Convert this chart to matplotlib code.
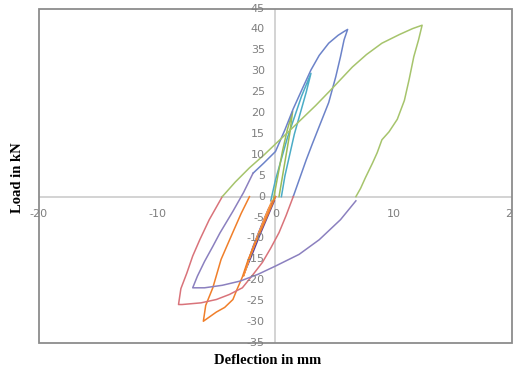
import matplotlib
matplotlib.use('Agg')
import matplotlib.pyplot as plt
from matplotlib.patches import Rectangle

# hysteresis cycles, deflection (mm) / load (kN)
aqua_x = [-0.4, 0.0, 0.5, 1.0, 1.6, 2.2, 3.0, 2.6, 2.1, 1.6, 1.2, 0.8, 0.5]
aqua_y = [-1.0, 4.0, 9.0, 14.0, 19.0, 24.0, 29.5, 25.0, 20.0, 15.0, 10.0, 5.0, 0.0]

purple_small_x = [0.0, -0.6, -1.2, -1.9, -2.6, -2.0, -1.3, -0.7, -0.1]
purple_small_y = [0.0, -3.0, -7.0, -12.0, -18.0, -14.0, -9.0, -5.0, -1.0]

green_small_x = [-0.2, 0.2, 0.6, 1.0, 1.45, 1.2, 0.9, 0.6, 0.3]
green_small_y = [-1.0, 5.0, 11.0, 16.0, 20.4, 15.0, 10.0, 5.0, 0.0]

orange_x = [0.0, -0.8, -1.6, -2.3, -2.8, -3.3, -3.6, -4.3, -5.0, -6.1,
            -5.9, -5.3, -4.6, -3.6, -2.9, -2.2]
orange_y = [0.0, -5.3, -10.4, -15.0, -19.2, -22.5, -24.6, -26.5, -27.6, -29.8,
            -26.0, -21.8, -15.0, -8.5, -4.0, 0.0]

orange2_x = [-0.3, -0.9, -1.5, -2.1, -2.7, -2.2, -1.6, -1.0, -0.4]
orange2_y = [-1.0, -5.0, -9.5, -14.0, -19.0, -14.5, -10.0, -6.0, -2.0]

blue_x = [-1.9, -1.0, 0.0, 0.8, 1.5, 2.3, 3.0, 3.7, 4.5, 5.3, 5.8, 6.1,
          5.8, 5.5, 5.1, 4.5, 3.7, 3.1, 2.6, 2.0, 1.5]
blue_y = [5.6, 8.0, 10.8, 16.0, 21.0, 26.0, 30.3, 33.8, 36.7, 38.6, 39.5, 40.0,
          37.5, 33.5, 28.7, 22.5, 16.8, 12.5, 8.8, 4.0, 0.0]

red_x = [1.5, 0.9, 0.3, -0.4, -1.1, -2.0, -2.8, -3.9, -5.0, -6.3, -7.9, -8.2,
         -8.0, -7.5, -7.0, -6.4, -5.6, -4.5]
red_y = [0.0, -4.5, -8.6, -12.3, -15.7, -19.0, -21.8, -23.4, -24.6, -25.4, -25.8, -25.8,
         -22.0, -18.3, -14.2, -10.3, -5.5, 0.0]

green_x = [-4.5, -3.4, -2.2, -1.0, 0.0, 1.2, 2.3, 3.4, 4.6, 5.5, 6.5, 7.7, 9.0,
           10.5, 11.6, 12.4, 12.1, 11.7, 11.3, 10.9, 10.3, 9.6, 9.0, 8.6,
           8.2, 7.6, 7.2, 6.8]
green_y = [0.0, 3.5, 6.9, 9.9, 12.6, 15.8, 18.8, 21.8, 25.3, 28.0, 31.0, 34.0, 36.7,
           38.8, 40.2, 41.0, 37.5, 33.5, 28.0, 23.0, 18.5, 15.5, 13.6, 10.5,
           8.0, 4.5, 2.0, 0.0]

purple_x = [6.8, 5.5, 3.7, 2.0, 0.0, -1.5, -3.0, -4.5, -6.0, -7.0,
            -6.6, -6.0, -5.3, -4.7, -3.6, -2.7, -1.9]
purple_y = [-1.0, -5.5, -10.3, -13.8, -16.6, -18.6, -20.2, -21.2, -21.8, -21.8,
            -19.0, -15.5, -11.9, -8.7, -3.5, 1.0, 5.6]

series = [
    (aqua_x, aqua_y, '#4BACC6'),
    (purple_small_x, purple_small_y, '#5B3F9A'),
    (green_small_x, green_small_y, '#9BBB59'),
    (orange2_x, orange2_y, '#F79646'),
    (orange_x, orange_y, '#F07F2A'),
    (blue_x, blue_y, '#6C83C9'),
    (red_x, red_y, '#D9737A'),
    (green_x, green_y, '#A6C46C'),
    (purple_x, purple_y, '#8B80BF'),
]

fig = plt.figure(figsize=(5.13, 3.70), dpi=100)
ax = fig.add_axes([0.076, 0.073, 0.922, 0.904])

ax.axhline(0, color='#C8C8C8', lw=1.1, zorder=1)
ax.axvline(0, color='#C8C8C8', lw=1.1, zorder=1)

for x, y, c in series:
    ax.plot(x, y, color=c, lw=1.1, zorder=3)

ax.set_xlim(-20, 20)
ax.set_ylim(-35, 45)
for s in ax.spines.values():
    s.set_visible(False)
ax.add_patch(Rectangle((0, 0), 1, 1, transform=ax.transAxes, fill=False,
                       ec='#8C8C8C', lw=1.3, clip_on=False, zorder=4))

ax.set_xticks([])
ax.set_yticks([])
lab_kw = dict(color='#7F7F7F', fontsize=8, family='DejaVu Sans', zorder=5)
for xt in range(-20, 21, 10):
    ax.text(xt, -4.2, str(xt), ha='center', va='center', **lab_kw)
for yt in range(-35, 46, 5):
    ax.text(-0.9, yt, str(yt), ha='right', va='center', **lab_kw)

fig.text(0.035, 0.52, 'Load in kN', rotation=90, ha='center', va='center',
         family='Liberation Serif', fontweight='bold', fontsize=10.5)
fig.text(0.522, 0.027, 'Deflection in mm', ha='center', va='center',
         family='Liberation Serif', fontweight='bold', fontsize=10.5)

fig.savefig('out.png', dpi=100)
